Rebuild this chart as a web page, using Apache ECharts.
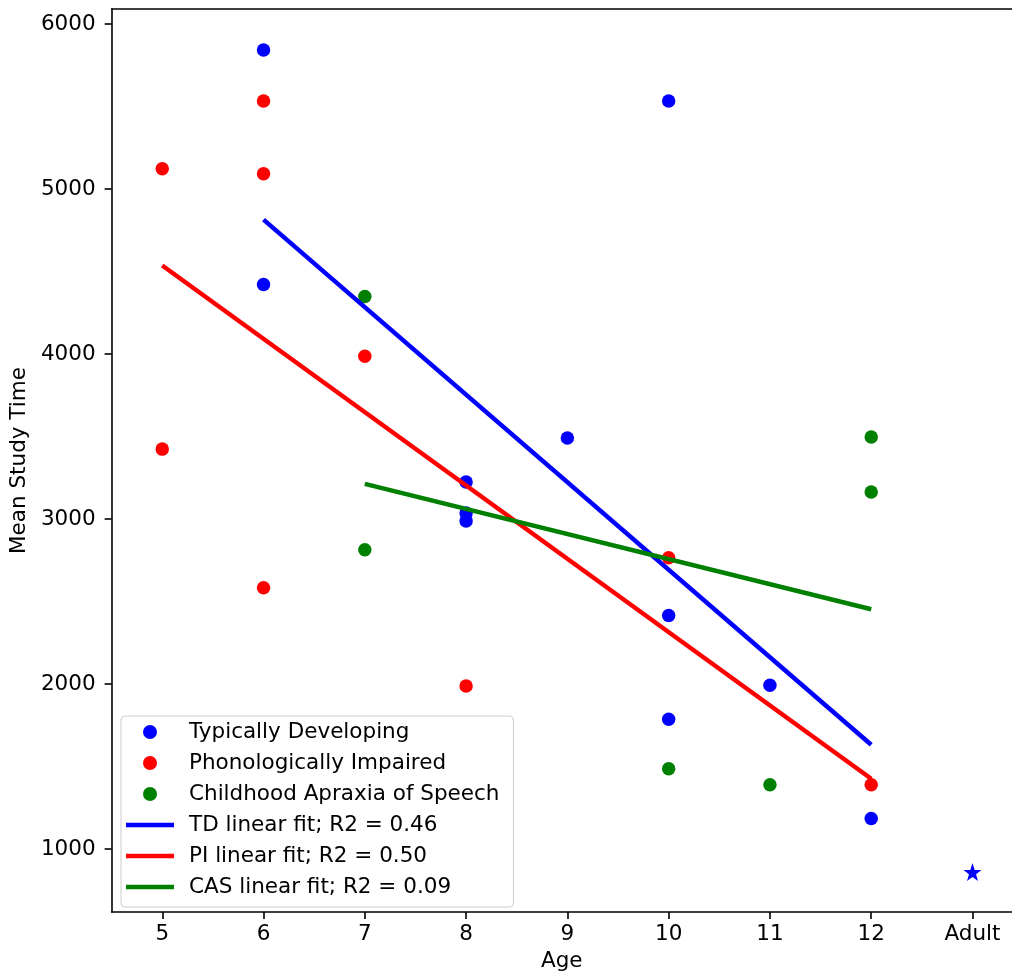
<!DOCTYPE html>
<html>
<head>
<meta charset="utf-8">
<script src="https://cdn.jsdelivr.net/npm/echarts@6/dist/echarts.min.js"></script>
<style>
  html, body { margin: 0; padding: 0; background: #fff; }
  #chart { width: 1012px; height: 977px; }
</style>
</head>
<body>
<div id="chart"></div>
<script>
// tick positions and labels (13 = Adult)
const xTicks = [5, 6, 7, 8, 9, 10, 11, 12, 13];
const xTickLabels = ['5', '6', '7', '8', '9', '10', '11', '12', 'Adult'];
const yTicks = [1000, 2000, 3000, 4000, 5000, 6000];

// Typically Developing
const tdAges = [6, 6, 8, 8, 8, 9, 10, 10, 10, 11, 12];
const tdTimes = [5843, 4422, 3225, 3036, 2989, 3491, 5534, 2415, 1786, 1992, 1185];
// Phonologically Impaired
const piAges = [5, 5, 6, 6, 6, 7, 8, 10, 12];
const piTimes = [5123, 3424, 5534, 5093, 2584, 3987, 1988, 2765, 1390];
// Childhood Apraxia of Speech
const casAges = [7, 7, 10, 11, 12, 12];
const casTimes = [4349, 2814, 1487, 1390, 3497, 3164];
// adult mean
const adultAge = [13];
const adultTime = [860];

// linear fits (start, end)
const tdFitAges = [6, 12];
const tdFitTimes = [4815, 1632];
const piFitAges = [5, 12];
const piFitTimes = [4537, 1426];
const casFitAges = [7, 12];
const casFitTimes = [3213, 2453];

const zip = (xs, ys) => xs.map((x, i) => [x, ys[i]]);

const starPath = 'path://M50,0 L61.8,35.1 L98.1,35.1 L68.8,56.7 L79.4,91.3 L50,70 L20.6,91.3 L31.2,56.7 L1.9,35.1 L38.2,35.1 Z';
const lineIcon = 'path://M0,0 H48 V4.5 H0 Z';
const font = 'DejaVu Sans';
const fs = 21.5;

const chart = echarts.init(document.getElementById('chart'));
chart.setOption({
  animation: false,
  textStyle: { fontFamily: font },
  grid: { left: 109, top: 9, right: 0, bottom: 60 },
  xAxis: [{
    type: 'value',
    min: 4.5,
    max: 13.39,
    name: 'Age',
    nameLocation: 'middle',
    nameGap: 38,
    nameTextStyle: { color: '#000', fontSize: fs, fontFamily: font },
    splitLine: { show: false },
    axisLine: { lineStyle: { color: '#000', width: 1.6 } },
    axisTick: { length: 7, lineStyle: { color: '#000', width: 1.6 }, customValues: xTicks },
    axisLabel: {
      color: '#000', fontSize: fs, fontFamily: font, margin: 11,
      customValues: xTicks,
      formatter: v => xTickLabels[xTicks.indexOf(v)]
    }
  }, {
    type: 'value',
    position: 'top',
    min: 4.5,
    max: 13.39,
    splitLine: { show: false },
    axisLine: { show: true, lineStyle: { color: '#000', width: 1.6 } },
    axisTick: { show: false },
    axisLabel: { show: false }
  }],
  yAxis: {
    type: 'value',
    min: 618,
    max: 6092,
    name: 'Mean Study Time',
    nameLocation: 'middle',
    nameGap: 76,
    nameTextStyle: { color: '#000', fontSize: fs, fontFamily: font },
    splitLine: { show: false },
    axisLine: { show: true, lineStyle: { color: '#000', width: 1.6 } },
    axisTick: { show: true, length: 7, lineStyle: { color: '#000', width: 1.6 }, customValues: yTicks },
    axisLabel: {
      color: '#000', fontSize: fs, fontFamily: font, margin: 16,
      customValues: yTicks,
      formatter: v => String(v)
    }
  },
  legend: {
    orient: 'vertical',
    left: 121,
    top: 716,
    padding: [5, 14, 9, 5],
    itemWidth: 48,
    itemHeight: 14,
    itemGap: 9,
    symbolKeepAspect: true,
    backgroundColor: 'rgba(255,255,255,0.8)',
    borderColor: '#cccccc',
    borderWidth: 1,
    borderRadius: 4,
    textStyle: { color: '#000', fontSize: fs, fontFamily: font, padding: [0, 0, 0, 10] },
    data: [
      { name: 'Typically Developing', icon: 'circle' },
      { name: 'Phonologically Impaired', icon: 'circle' },
      { name: 'Childhood Apraxia of Speech', icon: 'circle' },
      { name: 'TD linear fit; R2 = 0.46', icon: lineIcon },
      { name: 'PI linear fit; R2 = 0.50', icon: lineIcon },
      { name: 'CAS linear fit; R2 = 0.09', icon: lineIcon }
    ]
  },
  series: [
    { name: 'Typically Developing', type: 'scatter', symbolSize: 13.5, itemStyle: { color: '#0000ff', opacity: 1 }, data: zip(tdAges, tdTimes) },
    { name: 'Phonologically Impaired', type: 'scatter', symbolSize: 13.5, itemStyle: { color: '#ff0000', opacity: 1 }, data: zip(piAges, piTimes) },
    { name: 'Childhood Apraxia of Speech', type: 'scatter', symbolSize: 13.5, itemStyle: { color: '#008000', opacity: 1 }, data: zip(casAges, casTimes) },
    { name: 'Adult', type: 'scatter', symbol: starPath, symbolSize: 18, itemStyle: { color: '#0000ff', opacity: 1 }, data: zip(adultAge, adultTime) },
    { name: 'TD linear fit; R2 = 0.46', type: 'line', symbol: 'none', lineStyle: { color: '#0000ff', width: 4.5 }, itemStyle: { color: '#0000ff' }, data: zip(tdFitAges, tdFitTimes) },
    { name: 'PI linear fit; R2 = 0.50', type: 'line', symbol: 'none', lineStyle: { color: '#ff0000', width: 4.5 }, itemStyle: { color: '#ff0000' }, data: zip(piFitAges, piFitTimes) },
    { name: 'CAS linear fit; R2 = 0.09', type: 'line', symbol: 'none', lineStyle: { color: '#008000', width: 4.5 }, itemStyle: { color: '#008000' }, data: zip(casFitAges, casFitTimes) }
  ]
});
</script>
</body>
</html>
